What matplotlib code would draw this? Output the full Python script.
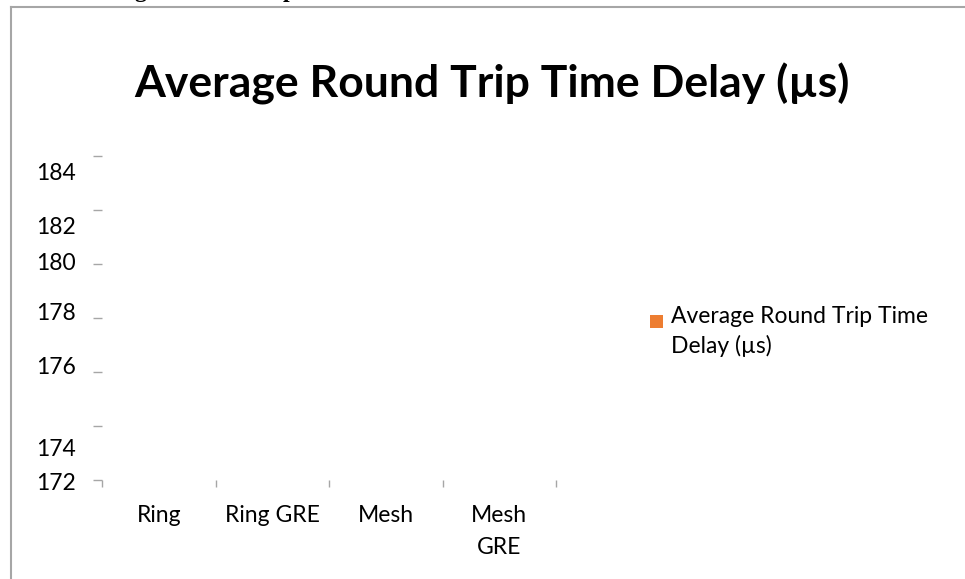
import numpy as np
import matplotlib.pyplot as plt
from matplotlib.lines import Line2D
from matplotlib.patches import Rectangle
from matplotlib.transforms import blended_transform_factory

plt.rcParams['font.family'] = ['Lato', 'DejaVu Sans']

# chart data
categories = ['Ring', 'Ring GRE', 'Mesh', 'Mesh\nGRE']
y_ticks = [172, 174, 176, 178, 180, 182, 184]
series_name = 'Average Round Trip Time\nDelay (µs)'
series_color = '#ED7D31'
title = 'Average Round Trip Time Delay (µs)'

# tick labels in the source are drawn off their tick marks (pixels, + is up)
label_shift_px = [-3, -23, 4, 4, 1, -18, -18]

W, H = 965, 579
fig = plt.figure(figsize=(W / 100, H / 100), dpi=100)

# axes box in pixels
x0, x1, ytop, ybot = 102, 556, 156, 480
ax = fig.add_axes([x0 / W, (H - ybot) / H, (x1 - x0) / W, (ybot - ytop) / H])
ax.set_xlim(-0.5, len(categories) - 0.5)
ax.set_ylim(y_ticks[0], y_ticks[-1])
for s in ax.spines.values():
    s.set_visible(False)

tick_col = '#a6a6a6'
ax.set_yticks(y_ticks)
ax.set_yticklabels([])
ax.tick_params(axis='y', which='major', length=6.5, width=1, color=tick_col, direction='out')

xpos = np.arange(len(categories))
ax.set_xticks(xpos)
ax.set_xticklabels(categories, fontsize=16.5, linespacing=1.65)
ax.set_xticks(np.arange(len(categories) + 1) - 0.5, minor=True)
ax.tick_params(axis='x', which='major', length=0, pad=18)
ax.tick_params(axis='x', which='minor', length=5, width=1, color=tick_col, direction='out')

# y tick labels, placed where the source shows them
tr = blended_transform_factory(fig.transFigure, ax.transData)
px_per_unit = (ybot - ytop) / (y_ticks[-1] - y_ticks[0])
for v, sh in zip(y_ticks, label_shift_px):
    ax.text(76 / W, v + sh / px_per_unit, str(v), transform=tr, ha='right', va='center',
            fontsize=16.5, clip_on=False)

fig.text(492 / W, 1 - 84 / H, title, ha='center', va='center', fontsize=32, fontweight='bold')

# legend
fig.add_artist(Rectangle((650 / W, 1 - 328 / H), 13 / W, 13 / H, transform=fig.transFigure,
                         facecolor=series_color, edgecolor='none'))
fig.text(671 / W, 1 - 306 / H, series_name, ha='left', va='top', fontsize=16.5, linespacing=1.45)

# frame of the embedded chart (only left and top edges are in view)
fig.add_artist(Line2D([11 / W, 11 / W], [0, 1 - 7 / H], color='#a6a6a6', lw=1.5))
fig.add_artist(Line2D([11 / W, 1], [1 - 7 / H, 1 - 7 / H], color='#a6a6a6', lw=1.5))

# cut-off heading of the surrounding document
fig.text(305 / W, 1 + 3 / H, 'Ring and Mesh Tops', ha='right', va='baseline',
         fontsize=17, fontweight='bold', family='Liberation Serif')

fig.savefig('out.png', dpi=100)
